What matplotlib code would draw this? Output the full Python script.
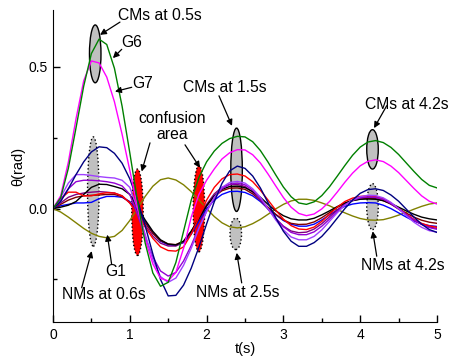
import numpy as np
import matplotlib
matplotlib.use('Agg')
import matplotlib.pyplot as plt
from matplotlib.patches import Ellipse

plt.rcParams['font.family'] = ['Liberation Sans', 'DejaVu Sans']

# time axis, 0.1 s steps
t = np.linspace(0, 5, 51)

# rotor angles (rad)
g6 = [0, 0.038, 0.142, 0.285, 0.432, 0.547, 0.598, 0.579, 0.495, 0.361,
      0.197, 0.027, -0.121, -0.227, -0.274, -0.26, -0.19, -0.08, 0.03, 0.11,
      0.165, 0.203, 0.23, 0.247, 0.255, 0.253, 0.236, 0.205, 0.164, 0.119,
      0.076, 0.042, 0.020, 0.015, 0.024, 0.046, 0.077, 0.114, 0.152, 0.188,
      0.217, 0.235, 0.24, 0.233, 0.216, 0.191, 0.161, 0.131, 0.103, 0.082, 0.073]
g7 = [0, 0.045, 0.164, 0.317, 0.451, 0.521, 0.514, 0.464, 0.377, 0.262,
      0.135, 0.006, -0.108, -0.195, -0.246, -0.255, -0.225, -0.14, -0.03, 0.05,
      0.1, 0.14, 0.175, 0.197, 0.208, 0.207, 0.19, 0.161, 0.122, 0.08,
      0.039, 0.005, -0.017, -0.025, -0.019, -0.001, 0.025, 0.058, 0.093, 0.125,
      0.151, 0.167, 0.172, 0.166, 0.15, 0.127, 0.099, 0.071, 0.045, 0.026, 0.016]
navy = [0, 0.025, 0.07, 0.12, 0.165, 0.2, 0.218, 0.215, 0.195, 0.16,
        0.105, 0.03, -0.06, -0.16, -0.25, -0.308, -0.306, -0.27, -0.21, -0.136,
        -0.054, 0.024, 0.089, 0.133, 0.15, 0.142, 0.115, 0.073, 0.021, -0.032,
        -0.08, -0.115, -0.133, -0.133, -0.12, -0.098, -0.068, -0.034, 0.0, 0.03,
        0.054, 0.067, 0.07, 0.064, 0.048, 0.026, -0.002, -0.03, -0.055, -0.074, -0.084]
g1 = [0, -0.012, -0.03, -0.05, -0.07, -0.087, -0.098, -0.103, -0.098, -0.077,
      -0.042, 0.0, 0.043, 0.079, 0.102, 0.108, 0.101, 0.084, 0.06, 0.031,
      0.0, -0.028, -0.05, -0.064, -0.068, -0.064, -0.053, -0.038, -0.02, -0.001,
      0.015, 0.027, 0.033, 0.033, 0.029, 0.02, 0.01, -0.003, -0.015, -0.026,
      -0.035, -0.04, -0.041, -0.039, -0.032, -0.023, -0.013, -0.002, 0.008, 0.016, 0.02]
violet = [0, 0.04, 0.09, 0.12, 0.12, 0.117, 0.113, 0.11, 0.108, 0.1,
          0.075, 0.0, -0.09, -0.18, -0.24, -0.26, -0.245, -0.2, -0.14, -0.07,
          -0.01, 0.04, 0.075, 0.092, 0.096, 0.09, 0.07, 0.04, 0.0, -0.04,
          -0.075, -0.1, -0.11, -0.11, -0.098, -0.075, -0.045, -0.015, 0.012, 0.03,
          0.042, 0.047, 0.046, 0.038, 0.022, 0.0, -0.025, -0.048, -0.066, -0.078, -0.083]
purple = [0, 0.03, 0.07, 0.095, 0.1, 0.1, 0.098, 0.095, 0.09, 0.08,
          0.05, -0.02, -0.1, -0.17, -0.22, -0.238, -0.225, -0.185, -0.13, -0.065,
          -0.01, 0.037, 0.07, 0.086, 0.09, 0.084, 0.065, 0.036, 0.0, -0.035,
          -0.064, -0.084, -0.092, -0.092, -0.082, -0.062, -0.037, -0.01, 0.013, 0.029,
          0.038, 0.041, 0.04, 0.033, 0.018, 0.0, -0.021, -0.04, -0.056, -0.067, -0.073]
plum = [0, 0.02, 0.04, 0.05, 0.055, 0.058, 0.06, 0.058, 0.055, 0.045,
        0.02, -0.015, -0.058, -0.097, -0.122, -0.132, -0.132, -0.118, -0.082, -0.035,
        0.015, 0.052, 0.075, 0.085, 0.085, 0.078, 0.058, 0.03, -0.002, -0.035,
        -0.062, -0.079, -0.085, -0.083, -0.072, -0.053, -0.029, -0.005, 0.016, 0.03,
        0.038, 0.04, 0.039, 0.031, 0.016, -0.002, -0.022, -0.041, -0.055, -0.065, -0.07]
black = [0, 0.005, 0.012, 0.025, 0.05, 0.075, 0.086, 0.085, 0.078, 0.07,
         0.05, 0.005, -0.04, -0.08, -0.11, -0.125, -0.128, -0.115, -0.08, -0.035,
         0.01, 0.045, 0.068, 0.078, 0.079, 0.074, 0.06, 0.04, 0.015, -0.008,
         -0.025, -0.036, -0.04, -0.04, -0.034, -0.022, -0.008, 0.007, 0.02, 0.028,
         0.033, 0.034, 0.033, 0.028, 0.018, 0.005, -0.008, -0.02, -0.03, -0.036, -0.04]
red = [0, 0.035, 0.058, 0.058, 0.045, 0.045, 0.052, 0.056, 0.055, 0.045,
       0.02, -0.02, -0.065, -0.105, -0.135, -0.148, -0.15, -0.135, -0.09, -0.03,
       0.03, 0.075, 0.105, 0.12, 0.122, 0.115, 0.095, 0.065, 0.03, -0.005,
       -0.037, -0.06, -0.072, -0.074, -0.065, -0.045, -0.02, 0.005, 0.025, 0.037,
       0.043, 0.045, 0.043, 0.035, 0.02, 0.0, -0.02, -0.038, -0.052, -0.061, -0.066]
blue = [0, 0.01, 0.015, 0.02, 0.02, 0.022, 0.035, 0.043, 0.043, 0.04,
        0.025, -0.005, -0.045, -0.085, -0.115, -0.128, -0.13, -0.12, -0.09, -0.045,
        0.0, 0.03, 0.05, 0.06, 0.061, 0.057, 0.045, 0.025, 0.0, -0.022,
        -0.042, -0.055, -0.062, -0.062, -0.055, -0.04, -0.022, -0.005, 0.008, 0.016,
        0.02, 0.021, 0.02, 0.012, 0.0, -0.015, -0.03, -0.044, -0.054, -0.06, -0.063]
maroon = [0, 0.015, 0.03, 0.04, 0.045, 0.047, 0.048, 0.05, 0.05, 0.042,
          0.022, -0.01, -0.05, -0.088, -0.113, -0.125, -0.127, -0.115, -0.08, -0.035,
          0.01, 0.043, 0.063, 0.072, 0.073, 0.068, 0.052, 0.03, 0.005, -0.02,
          -0.04, -0.052, -0.056, -0.055, -0.047, -0.032, -0.014, 0.004, 0.019, 0.029,
          0.034, 0.036, 0.035, 0.028, 0.016, 0.0, -0.016, -0.03, -0.041, -0.048, -0.052]

curves = [(g1, '#808000'), (blue, '#0000FF'), (maroon, '#800000'), (plum, '#800080'),
          (black, '#000000'), (red, '#FF0000'), (purple, '#9400D3'), (violet, '#A040FF'),
          (navy, '#000080'), (g7, '#FF00FF'), (g6, '#008000')]

# marked regions: (t centre, theta centre, width, height, fill, edge style)
ell_t = [0.55, 0.525, 2.39, 2.38, 4.16, 4.16, 1.10, 1.90]
ell_y = [0.546, 0.06, 0.137, -0.089, 0.209, 0.007, -0.013, 0.0]
ell_h = [0.204, 0.386, 0.294, 0.111, 0.139, 0.162, 0.305, 0.305]
ell_fill = ['#C0C0C0', '#C0C0C0', '#C0C0C0', '#C0C0C0', '#C0C0C0', '#C0C0C0', '#FF0000', '#FF0000']
ell_ls = ['-', ':', '-', ':', '-', ':', ':', ':']

# labels: text, text position, list of (arrow tail, arrow head)
labels = [
    ('CMs at 0.5s', (1.39, 0.683), [((0.872, 0.658), (0.612, 0.613))]),
    ('G6', (1.03, 0.585), [((0.895, 0.562), (0.78, 0.531))]),
    ('G7', (1.17, 0.44), [((1.025, 0.428), (0.807, 0.413))]),
    ('confusion\narea', (1.55, 0.289), [((1.263, 0.232), (1.155, 0.131)),
                                         ((1.719, 0.225), (1.914, 0.144))]),
    ('CMs at 1.5s', (2.24, 0.426), [((2.161, 0.398), (2.331, 0.292))]),
    ('CMs at 4.2s', (4.61, 0.366), [((4.345, 0.363), (4.18, 0.284))]),
    ('NMs at 0.6s', (0.664, -0.303), [((0.374, -0.279), (0.504, -0.15))]),
    ('G1', (0.82, -0.222), [((0.764, -0.197), (0.707, -0.092))]),
    ('NMs at 2.5s', (2.41, -0.296), [((2.457, -0.262), (2.392, -0.156))]),
    ('NMs at 4.2s', (4.557, -0.202), [((4.215, -0.168), (4.163, -0.08))]),
]

fig = plt.figure(figsize=(4.54, 3.58), dpi=100)
ax = fig.add_axes([0.1167, 0.1006, 0.8459, 0.8709])

for i in range(len(ell_t)):
    e = Ellipse((ell_t[i], ell_y[i]), 0.15, ell_h[i], facecolor=ell_fill[i],
                edgecolor='k', linestyle=ell_ls[i], lw=1.0, zorder=1)
    ax.add_patch(e)

for y, c in curves:
    ax.plot(t, y, color=c, lw=1.0, zorder=2)

for txt, pos, arrows in labels:
    ax.text(pos[0], pos[1], txt, ha='center', va='center', fontsize=11.3,
            linespacing=1.1, zorder=4)
    for tail, head in arrows:
        ax.annotate('', xy=head, xytext=tail,
                    arrowprops=dict(arrowstyle='-|>', color='k', lw=0.9,
                                    mutation_scale=9, shrinkA=0, shrinkB=0),
                    zorder=4)

ax.set_xlim(0, 5)
ax.set_ylim(-0.4, 0.7)
ax.spines['top'].set_visible(False)
ax.spines['right'].set_visible(False)
ax.set_xticks([0, 1, 2, 3, 4, 5])
ax.set_xticks(np.arange(0.5, 5, 1.0), minor=True)
ax.set_yticks([0.0, 0.5])
ax.set_yticklabels(['0.0', '0.5'])
ax.set_yticks([-0.25, 0.25], minor=True)
ax.tick_params(which='major', direction='in', length=5, width=1, labelsize=10, pad=4)
ax.tick_params(which='minor', direction='in', length=3, width=1)
ax.set_xlabel('t(s)', fontsize=10.5, labelpad=0)
ax.set_ylabel('θ(rad)', fontsize=10.5, labelpad=2)

fig.savefig('out.png', dpi=100)
